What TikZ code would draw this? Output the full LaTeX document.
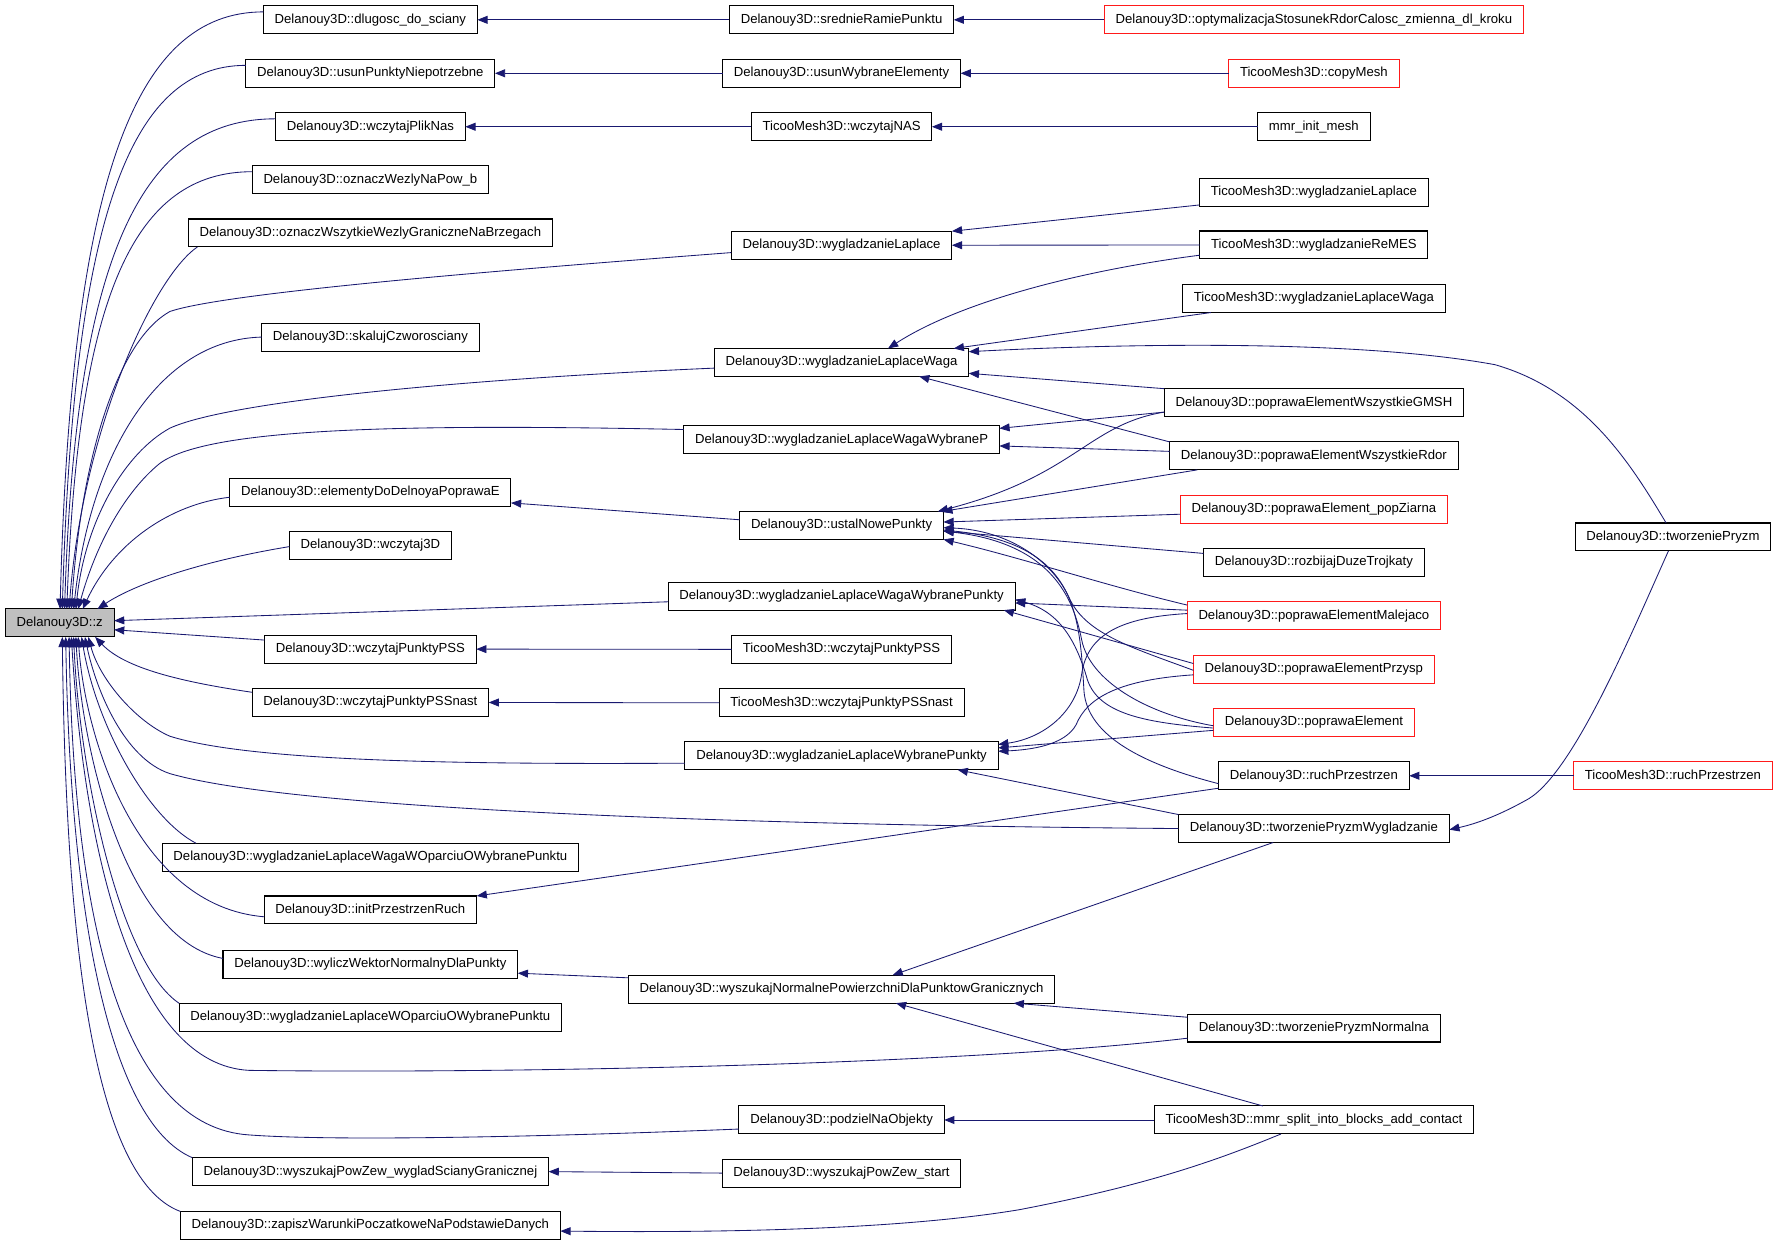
\documentclass[tikz,border=0pt]{standalone}
\usepackage{fontspec}
\setmainfont{Liberation Sans}
\usetikzlibrary{arrows.meta,calc}
\definecolor{edgeblue}{HTML}{191970}
\definecolor{zgray}{HTML}{BFBFBF}
\definecolor{boxred}{HTML}{FF1A1A}
\begin{document}
\begin{tikzpicture}[x=1pt,y=-1pt,
  box/.style={draw=black,line width=0.9pt,fill=white,minimum height=24.7pt,inner xsep=10pt,inner ysep=0pt,outer sep=0pt,text height=8.4pt,text depth=2.4pt,font=\fontsize{11.6}{13.5}\selectfont},
  rbox/.style={box,draw=boxred},
  zbox/.style={box,fill=zgray},
  e/.style={draw=edgeblue,line width=0.75pt,-{Triangle[length=9pt,width=7pt]}}]
\fill[white] (0,0) rectangle (1568,1099);
\useasboundingbox (0,0) rectangle (1568,1099);

% root
\node[zbox] (z) at (52.7,550) {Delanouy3D::z};

% column 1
\node[box] (dl)     at (327,17.5)  {Delanouy3D::dlugosc\_do\_sciany};
\node[box] (usunP)  at (327,64.7)  {Delanouy3D::usunPunktyNiepotrzebne};
\node[box] (wPN)    at (327,111.9) {Delanouy3D::wczytajPlikNas};
\node[box] (ozW)    at (327,158.6) {Delanouy3D::oznaczWezlyNaPow\_b};
\node[box] (ozWG)   at (327,205.7) {Delanouy3D::oznaczWszytkieWezlyGraniczneNaBrzegach};
\node[box] (skal)   at (327,297.6) {Delanouy3D::skalujCzworosciany};
\node[box] (elem)   at (327,434.5) {Delanouy3D::elementyDoDelnoyaPoprawaE};
\node[box] (w3D)    at (327,481.6) {Delanouy3D::wczytaj3D};
\node[box] (wPSS)   at (327,573.1) {Delanouy3D::wczytajPunktyPSS};
\node[box] (wPSSn)  at (327,620.2) {Delanouy3D::wczytajPunktyPSSnast};
\node[box] (wLWO)   at (327,756.9) {Delanouy3D::wygladzanieLaplaceWagaWOparciuOWybranePunktu};
\node[box] (initP)  at (327,803.4) {Delanouy3D::initPrzestrzenRuch};
\node[box] (wylicz) at (327,851.2) {Delanouy3D::wyliczWektorNormalnyDlaPunkty};
\node[box] (wLO)    at (327,898.1) {Delanouy3D::wygladzanieLaplaceWOparciuOWybranePunktu};
\node[box] (wyszPZ) at (327,1034.4) {Delanouy3D::wyszukajPowZew\_wygladScianyGranicznej};
\node[box] (zapisz) at (327,1081.9) {Delanouy3D::zapiszWarunkiPoczatkoweNaPodstawieDanych};

% column 2
\node[box] (sred)    at (743,17.5)  {Delanouy3D::srednieRamiePunktu};
\node[box] (usunW)   at (743,64.7)  {Delanouy3D::usunWybraneElementy};
\node[box] (TwNAS)   at (743,111.9) {TicooMesh3D::wczytajNAS};
\node[box] (wL)      at (743,216.5) {Delanouy3D::wygladzanieLaplace};
\node[box] (wLW)     at (743,320)   {Delanouy3D::wygladzanieLaplaceWaga};
\node[box] (wLWWP)   at (743,388.2) {Delanouy3D::wygladzanieLaplaceWagaWybraneP};
\node[box] (ustal)   at (743,463.9) {Delanouy3D::ustalNowePunkty};
\node[box] (WWP)     at (743,526.3) {Delanouy3D::wygladzanieLaplaceWagaWybranePunkty};
\node[box] (TwPSS)   at (743,573.3) {TicooMesh3D::wczytajPunktyPSS};
\node[box] (TwPSSn)  at (743,620.5) {TicooMesh3D::wczytajPunktyPSSnast};
\node[box] (wLWPk)   at (743,667.3) {Delanouy3D::wygladzanieLaplaceWybranePunkty};
\node[box] (wyszN)   at (743,873.3) {Delanouy3D::wyszukajNormalnePowierzchniDlaPunktowGranicznych};
\node[box] (podz)    at (743,988.8) {Delanouy3D::podzielNaObjekty};
\node[box] (wyszPZs) at (743,1035.7) {Delanouy3D::wyszukajPowZew\_start};

% column 3
\node[rbox] (opt)   at (1160,17.5)  {Delanouy3D::optymalizacjaStosunekRdorCalosc\_zmienna\_dl\_kroku};
\node[rbox] (copy)  at (1160,64.7)  {TicooMesh3D::copyMesh};
\node[box] (mmrI)   at (1160,111.9) {mmr\_init\_mesh};
\node[box] (TwL)    at (1160,169.6) {TicooMesh3D::wygladzanieLaplace};
\node[box] (TReMES) at (1160,216.3) {TicooMesh3D::wygladzanieReMES};
\node[box] (TwLW)   at (1160,263.6) {TicooMesh3D::wygladzanieLaplaceWaga};
\node[box] (GMSH)   at (1160,355.5) {Delanouy3D::poprawaElementWszystkieGMSH};
\node[box] (Rdor)   at (1160,402.5) {Delanouy3D::poprawaElementWszystkieRdor};
\node[rbox] (popZ)  at (1160,449.5) {Delanouy3D::poprawaElement\_popZiarna};
\node[box] (rozb)   at (1160,496.6) {Delanouy3D::rozbijajDuzeTrojkaty};
\node[rbox] (male)  at (1160,543.7) {Delanouy3D::poprawaElementMalejaco};
\node[rbox] (przy)  at (1160,590.8) {Delanouy3D::poprawaElementPrzysp};
\node[rbox] (popr)  at (1160,637.8) {Delanouy3D::poprawaElement};
\node[box] (ruch)   at (1160,684.9) {Delanouy3D::ruchPrzestrzen};
\node[box] (tPW)    at (1160,731.5) {Delanouy3D::tworzeniePryzmWygladzanie};
\node[box] (tPN)    at (1160,907.6) {Delanouy3D::tworzeniePryzmNormalna};
\node[box] (mmr)    at (1160,988.8) {TicooMesh3D::mmr\_split\_into\_blocks\_add\_contact};

% column 4
\node[box] (tP)     at (1477,474.1) {Delanouy3D::tworzeniePryzm};
\node[rbox] (Truch) at (1477,684.9) {TicooMesh3D::ruchPrzestrzen};

% ---- edges into z, upper fan
\draw[e] ($(dl.west)+(0,-7)$) .. controls (119,10.5) and (63,158) .. ($(z.north)+(0.3,0)$);
\draw[e] ($(usunP.west)+(0,-7)$) .. controls (115,57.7) and (65,191) .. ($(z.north)+(2.3,0)$);
\draw[e] ($(wPN.west)+(0,-7)$) .. controls (125,104.9) and (67,225) .. ($(z.north)+(4.3,0)$);
\draw[e] ($(ozW.west)+(0,-7)$) .. controls (119,151.6) and (69,259) .. ($(z.north)+(6.3,0)$);
\draw[e] ($(ozWG.south west)+(8,0)$) .. controls (135,245) and (73,380) .. ($(z.north)+(8.3,0)$);
\draw[e] ($(wL.west)+(0,6.5)$) .. controls (450,238) and (200,258) .. (150,275) .. controls (105,300) and (72,400) .. ($(z.north)+(10.3,0)$);
\draw[e] (skal.west) .. controls (140,300) and (80,400) .. ($(z.north)+(12.3,0)$);
\draw[e] ($(wLW.west)+(0,5)$) .. controls (400,335) and (200,355) .. (150,378) .. controls (110,400) and (75,460) .. ($(z.north)+(14.3,0)$);
\draw[e] ($(wLWWP.west)+(0,-9)$) .. controls (350,374) and (180,378) .. (140,410) .. controls (110,435) and (85,480) .. ($(z.north)+(16.3,0)$);
\draw[e] ($(elem.west)+(0,4.5)$) .. controls (150,445) and (100,480) .. ($(z.north)+(20.3,0)$);
\draw[e] ($(w3D.west)+(0,1)$) .. controls (180,495) and (120,515) .. ($(z.north)+(33.3,0)$);
% horizontal
\draw[e] ($(WWP.west)+(0,5)$) -- ($(z.east)+(0,-2)$);
\draw[e] ($(wPSS.west)+(0,-8)$) -- ($(z.east)+(0,6)$);
% lower fan
\draw[e] ($(wPSSn.west)+(0,-9)$) .. controls (160,602) and (110,590) .. ($(z.south)+(31.3,0)$);
\draw[e] ($(wLWPk.west)+(0,6.5)$) .. controls (400,675) and (220,672) .. (150,650) .. controls (120,637) and (88,600) .. ($(z.south)+(25.3,0)$);
\draw[e] (tPW.west) .. controls (600,728) and (250,712) .. (150,683) .. controls (110,670) and (85,610) .. ($(z.south)+(22.3,0)$);
\draw[e] ($(wLWO.north west)+(30,0)$) .. controls (130,722) and (85,640) .. ($(z.south)+(19.3,0)$);
\draw[e] ($(initP.west)+(0,6)$) .. controls (120,800) and (75,650) .. ($(z.south)+(16.3,0)$);
\draw[e] ($(wylicz.west)+(0,-5)$) .. controls (110,830) and (72,660) .. ($(z.south)+(14.3,0)$);
\draw[e] (wLO.north west) .. controls (105,850) and (70,680) .. ($(z.south)+(12.3,0)$);
\draw[e] ($(tPN.west)+(0,9)$) .. controls (850,940) and (450,948) .. (220,945) .. controls (120,940) and (75,760) .. ($(z.south)+(10.3,0)$);
\draw[e] ($(podz.west)+(0,8)$) .. controls (500,1003) and (300,1008) .. (220,1002) .. controls (110,995) and (65,820) .. ($(z.south)+(8.3,0)$);
\draw[e] (wyszPZ.north west) .. controls (95,990) and (62,800) .. ($(z.south)+(5.3,0)$);
\draw[e] (zapisz.north west) .. controls (80,1040) and (58,820) .. ($(z.south)+(2.3,0)$);

% ---- column 2 -> column 1
\draw[e] (sred.west) -- (dl.east);
\draw[e] (usunW.west) -- (usunP.east);
\draw[e] (TwNAS.west) -- (wPN.east);
\draw[e] ($(ustal.west)+(0,-5)$) -- ($(elem.east)+(0,9.5)$);
\draw[e] (TwPSS.west) -- (wPSS.east);
\draw[e] (TwPSSn.west) -- (wPSSn.east);
\draw[e] ($(ruch.west)+(0,11)$) -- (initP.north east);
\draw[e] ($(wyszN.west)+(0,-10)$) -- ($(wylicz.east)+(0,8)$);
\draw[e] (wyszPZs.west) -- (wyszPZ.east);
\draw[e] ($(mmr.south)+(-29,0)$) .. controls (1080,1022) and (1020,1045) .. (900,1068) .. controls (780,1088) and (600,1088) .. ($(zapisz.east)+(0,5)$);

% ---- column 3 -> column 2
\draw[e] (opt.west) -- (sred.east);
\draw[e] (copy.west) -- (usunW.east);
\draw[e] (mmrI.west) -- (TwNAS.east);
\draw[e] ($(TwL.south west)+(0,-1)$) -- (wL.north east);
\draw[e] (TReMES.west) -- (wL.east);
\draw[e] ($(TReMES.west)+(0,9)$) .. controls (960,238) and (850,265) .. ($(wLW.north)+(41,0)$);
\draw[e] ($(TwLW.south west)+(25,0)$) -- ($(wLW.north)+(99,0)$);
\draw[e] ($(tP.north)+(-6,0)$) .. controls (1440,410) and (1400,345) .. (1320,322) .. controls (1200,300) and (1000,303) .. ($(wLW.east)+(0,-9.5)$);
\draw[e] (GMSH.north west) -- ($(wLW.east)+(0,9.6)$);
\draw[e] (Rdor.north west) -- ($(wLW.south)+(68.5,0)$);
\draw[e] ($(GMSH.south west)+(0,-4)$) -- ($(wLWWP.east)+(0,-10)$);
\draw[e] ($(Rdor.west)+(0,-4)$) -- ($(wLWWP.east)+(0,5.5)$);
\draw[e] ($(GMSH.south west)+(0,-4)$) .. controls (960,375) and (950,420) .. ($(ustal.north east)+(-5,0)$);
\draw[e] ($(Rdor.south)+(-103,0)$) -- ($(ustal.north east)+(-1,0)$);
\draw[e] ($(popZ.west)+(0,4.5)$) -- ($(ustal.east)+(0,-3)$);
\draw[e] ($(rozb.west)+(0,-8)$) -- ($(ustal.east)+(0,5)$);
\draw[e] ($(male.west)+(0,-9.5)$) .. controls (980,518) and (900,492) .. (ustal.south east);
\draw[e] ($(przy.west)+(0,1)$) .. controls (1000,572) and (960,560) .. (945,530) .. controls (930,495) and (890,468) .. ($(ustal.east)+(0,2)$);
\draw[e] ($(popr.west)+(0,3)$) .. controls (1010,630) and (962,600) .. (955,565) .. controls (948,530) and (930,480) .. ($(ustal.east)+(0,5)$);
\draw[e] ($(ruch.west)+(0,7)$) .. controls (1010,675) and (960,650) .. (957,610) .. controls (953,540) and (950,480) .. ($(ustal.east)+(0,4)$);
\draw[e] ($(male.west)+(0,-5)$) -- ($(WWP.east)+(0,6)$);
\draw[e] ($(przy.west)+(0,-5)$) -- ($(WWP.south east)+(-10,0)$);
\draw[e] ($(popr.west)+(0,5)$) .. controls (1010,638) and (970,630) .. (960,600) .. controls (950,565) and (935,540) .. ($(WWP.east)+(0,3)$);
\draw[e] ($(male.west)+(0,-2)$) .. controls (990,545) and (960,560) .. (955,595) .. controls (950,630) and (920,652) .. ($(wLWPk.east)+(0,-10)$);
\draw[e] ($(przy.west)+(0,5)$) .. controls (990,600) and (960,615) .. (950,640) .. controls (940,658) and (910,662) .. ($(wLWPk.east)+(0,-4)$);
\draw[e] ($(popr.west)+(0,7)$) -- ($(wLWPk.east)+(0,-7)$);
\draw[e] (tPW.north west) -- ($(wLWPk.south)+(102.5,0)$);
\draw[e] (Truch.west) -- (ruch.east);
\draw[e] ($(tP.south)+(-4,0)$) .. controls (1440,560) and (1390,680) .. (1350,705) .. controls (1320,722) and (1300,728) .. ($(tPW.east)+(0,1)$);
\draw[e] ($(tPW.south)+(-36,0)$) -- ($(wyszN.north)+(45,0)$);
\draw[e] ($(tPN.west)+(0,-9.5)$) -- ($(wyszN.south)+(152,0)$);
\draw[e] ($(mmr.north)+(-45,0)$) -- ($(wyszN.south)+(48,0)$);
\draw[e] (mmr.west) -- (podz.east);
\end{tikzpicture}
\end{document}
